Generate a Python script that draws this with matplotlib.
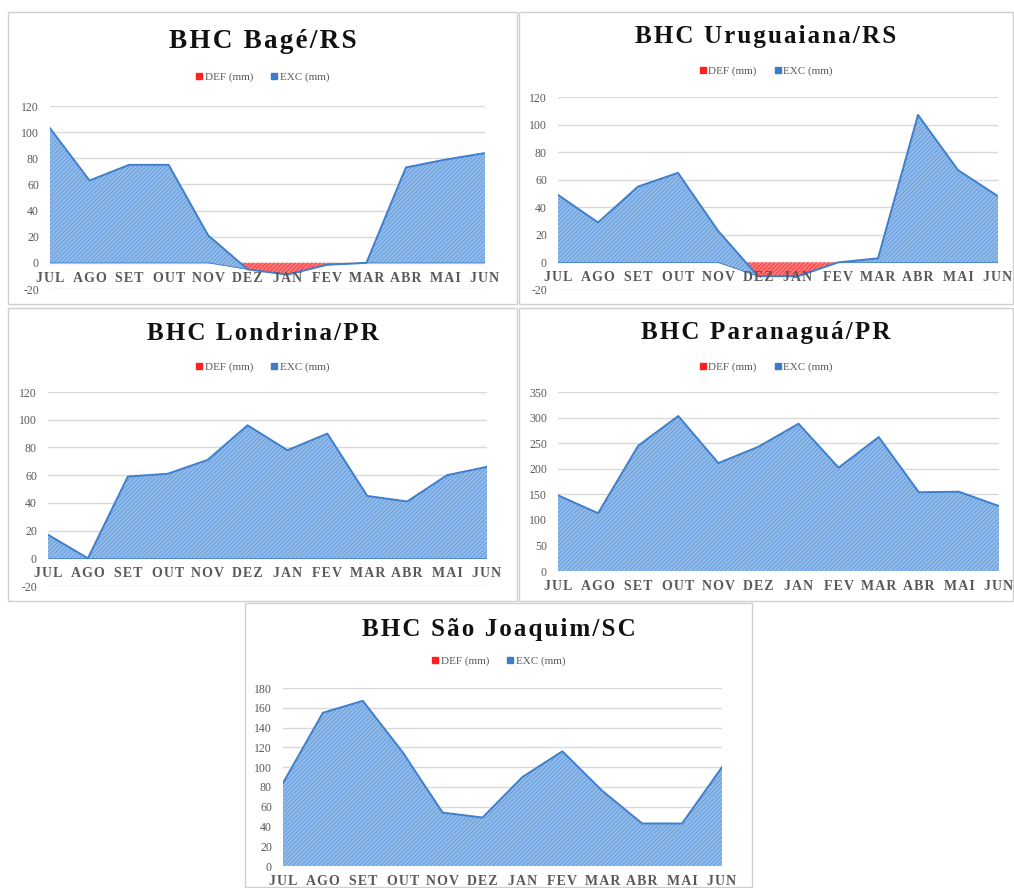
import numpy as np
import matplotlib
matplotlib.use('Agg')
import matplotlib.pyplot as plt
from matplotlib.patches import Rectangle
from matplotlib.lines import Line2D

plt.rcParams['font.family'] = ['Liberation Serif', 'DejaVu Serif']
plt.rcParams['hatch.linewidth'] = 0.5

W, H = 1014, 888

# ================== 数据 ==================
MESES = ['JUL', 'AGO', 'SET', 'OUT', 'NOV', 'DEZ', 'JAN', 'FEV', 'MAR', 'ABR', 'MAI', 'JUN']

bage_def = [0, 0, 0, 0, 0, -5, -9, -1.5, 0, 0, 0, 0]
bage_exc = [103, 63, 75, 75, 21, 0, 0, 0, 0, 73, 79, 84]

urug_def = [0, 0, 0, 0, 0, -10, -10, 0, 0, 0, 0, 0]
urug_exc = [49, 29, 55, 65, 23, 0, 0, 0, 3, 107, 67, 48]

lond_def = [0] * 12
lond_exc = [17, 0, 59, 61, 71, 96, 78, 90, 45, 41, 60, 66]

para_def = [0] * 12
para_exc = [148, 113, 245, 303, 211, 243, 288, 202, 262, 154, 155, 127]

sjoa_def = [0] * 12
sjoa_exc = [84, 155, 167, 115, 54, 49, 90, 116, 76, 43, 43, 100]

# 面板: 标题, 数据, y轴, 边框(px), 绘图区(px), 标题y, 图例y, 标题字号
PANELS = [
    ("BHC Bagé/RS", bage_def, bage_exc, (-20, 120, 20),
     (8, 12, 517, 304), (50, 106, 485, 289), 41, 77, 19.5),
    ("BHC Uruguaiana/RS", urug_def, urug_exc, (-20, 120, 20),
     (519, 12, 1013, 304), (558, 97, 998, 290), 37, 71, 18),
    ("BHC Londrina/PR", lond_def, lond_exc, (-20, 120, 20),
     (8, 308, 517, 601), (48, 392, 487, 586), 333, 367, 18),
    ("BHC Paranaguá/PR", para_def, para_exc, (0, 350, 50),
     (519, 308, 1013, 601), (558, 392, 999, 571), 333, 367, 18),
    ("BHC São Joaquim/SC", sjoa_def, sjoa_exc, (0, 180, 20),
     (245, 603, 752, 887), (283, 688, 722, 866), 629, 661, 18),
]

BLUE_FACE = '#90BBEA'
BLUE_HATCH = '#5D93D6'
BLUE_EDGE = '#3F7FCC'
RED_FACE = '#FF7A7A'
RED_HATCH = '#F52A2A'
GRID = '#D9D9D9'
TXT = '#595959'

HAIR = '\u200a'


def fx(x):
    return x / W


def fy(y):
    return 1 - y / H


fig = plt.figure(figsize=(W / 100, H / 100), dpi=100)

for title, d_def, d_exc, (ymin, ymax, step), border, plot, ty, ly, tsize in PANELS:
    bx0, by0, bx1, by1 = border
    fig.patches.append(Rectangle((fx(bx0), fy(by1)), fx(bx1 - bx0), (by1 - by0) / H,
                                 transform=fig.transFigure, fill=False,
                                 edgecolor='#D0D0D0', linewidth=1))
    px0, py0, px1, py1 = plot
    ax = fig.add_axes([fx(px0), fy(py1), fx(px1 - px0), (py1 - py0) / H])

    x = np.arange(12)
    dd = np.array(d_def, dtype=float)
    ee = np.array(d_exc, dtype=float)
    top = dd + ee

    ax.fill_between(x, 0, dd, facecolor=RED_FACE, edgecolor=RED_HATCH,
                    hatch='////////', linewidth=0, zorder=2)
    ax.fill_between(x, dd, top, facecolor=BLUE_FACE, edgecolor=BLUE_HATCH,
                    hatch='////////', linewidth=0, zorder=3)
    ax.plot(x, top, color=BLUE_EDGE, linewidth=1.4, zorder=4)
    ax.plot(x, dd, color=BLUE_EDGE, linewidth=0.6, zorder=4)

    ax.set_xlim(0, 11)
    ax.set_ylim(ymin, ymax)
    yt = np.arange(ymin, ymax + 1, step)
    ax.set_yticks(yt)
    ax.set_yticklabels([str(v) for v in yt], fontsize=8.5, color=TXT)
    ax.tick_params(axis='y', length=0, pad=8)
    ax.set_xticks([])
    for v in yt:
        ax.axhline(v, color=GRID, linewidth=1, zorder=1)
    for s in ax.spines.values():
        s.set_visible(False)

    for i, m in enumerate(MESES):
        ax.annotate(HAIR.join(m), xy=(i, 0), xytext=(0, -11),
                    textcoords='offset points', ha='center', va='center',
                    fontsize=10, fontweight='bold', color=TXT,
                    annotation_clip=False, zorder=5)

    fig.text(fx((bx0 + bx1) / 2), fy(ty), HAIR.join(title), ha='center',
             va='center', fontsize=tsize, fontweight='bold', color='#111111')

    handles = [Line2D([], [], marker='s', linestyle='none', markersize=4,
                      color='#FF2020'),
               Line2D([], [], marker='s', linestyle='none', markersize=4,
                      color='#3D7CC9')]
    fig.legend(handles, ['DEF (mm)', 'EXC (mm)'], loc='center',
               bbox_to_anchor=(fx((bx0 + bx1) / 2), fy(ly)), ncol=2,
               frameon=False, fontsize=8, labelcolor=TXT, handlelength=0.6,
               handletextpad=0.2, columnspacing=1.6)

fig.savefig('out.png', dpi=100)
